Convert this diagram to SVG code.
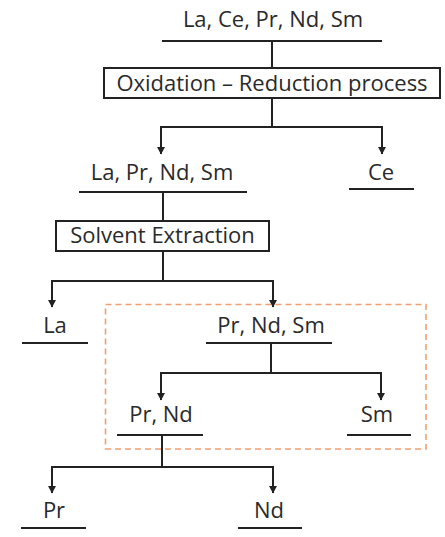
<svg xmlns="http://www.w3.org/2000/svg" width="445" height="537" viewBox="0 0 445 537">
<defs>
<marker id="ah" markerUnits="userSpaceOnUse" markerWidth="8" markerHeight="9" refX="7" refY="4.5" orient="auto" viewBox="0 0 8 9">
<path d="M0,0.5 L7.5,4.5 L0,8.5 Z" fill="#222"/>
</marker>
<style>
.t{font-family:"Open Sans","Liberation Sans",sans-serif;font-size:22px;fill:#2a2a2a;text-anchor:middle}
.ul{stroke:#222;stroke-width:2;fill:none}
.bx{stroke:#222;stroke-width:2;fill:#fff}
.c{stroke:#222;stroke-width:2;fill:none}
</style>
</defs>
<rect width="445" height="537" fill="#fff"/>
<rect id="group-box" x="105.5" y="304.5" width="320.5" height="144.5" fill="none" stroke="#f0a070" stroke-width="1.6" stroke-dasharray="6,4"/>
<g id="connectors">
<path class="c" d="M272,41 V68"/>
<path class="c" d="M272,98 V127 M161,127 H382"/>
<path class="c" d="M161,126 V154" marker-end="url(#ah)"/>
<path class="c" d="M382,126 V154" marker-end="url(#ah)"/>
<path class="c" d="M163,192 V221"/>
<path class="c" d="M163,251 V281 M52,281 H273"/>
<path class="c" d="M52,280 V307" marker-end="url(#ah)"/>
<path class="c" d="M273,280 V307" marker-end="url(#ah)"/>
<path class="c" d="M271,343 V373 M161,373 H381"/>
<path class="c" d="M161,372 V400" marker-end="url(#ah)"/>
<path class="c" d="M381,372 V400" marker-end="url(#ah)"/>
<path class="c" d="M162,435 V467 M52,467 H273"/>
<path class="c" d="M52,466 V493" marker-end="url(#ah)"/>
<path class="c" d="M273,466 V493" marker-end="url(#ah)"/>
</g>
<g id="n-all">
<text class="t" x="273" y="27">La, Ce, Pr, Nd, Sm</text>
<line class="ul" x1="162" y1="41" x2="382" y2="41"/>
</g>
<g id="p-oxred">
<rect class="bx" x="104" y="68" width="336" height="30"/>
<text class="t" x="272" y="91">Oxidation – Reduction process</text>
</g>
<g id="n-laprndsm">
<text class="t" x="162" y="180">La, Pr, Nd, Sm</text>
<line class="ul" x1="79" y1="192" x2="247" y2="192"/>
</g>
<g id="n-ce">
<text class="t" x="381" y="180">Ce</text>
<line class="ul" x1="349" y1="189" x2="414" y2="189"/>
</g>
<g id="p-solvent">
<rect class="bx" x="56" y="221" width="213" height="30"/>
<text class="t" x="162.5" y="243">Solvent Extraction</text>
</g>
<g id="n-la">
<text class="t" x="55" y="333">La</text>
<line class="ul" x1="22" y1="343" x2="88" y2="343"/>
</g>
<g id="n-prndsm">
<text class="t" x="271" y="333">Pr, Nd, Sm</text>
<line class="ul" x1="206" y1="343" x2="332" y2="343"/>
</g>
<g id="n-prnd">
<text class="t" x="161" y="422">Pr, Nd</text>
<line class="ul" x1="117" y1="435" x2="203" y2="435"/>
</g>
<g id="n-sm">
<text class="t" x="377" y="422">Sm</text>
<line class="ul" x1="347" y1="435" x2="411" y2="435"/>
</g>
<g id="n-pr">
<text class="t" x="54" y="518">Pr</text>
<line class="ul" x1="21" y1="528" x2="86" y2="528"/>
</g>
<g id="n-nd">
<text class="t" x="269" y="518">Nd</text>
<line class="ul" x1="238" y1="528" x2="302" y2="528"/>
</g>
</svg>
